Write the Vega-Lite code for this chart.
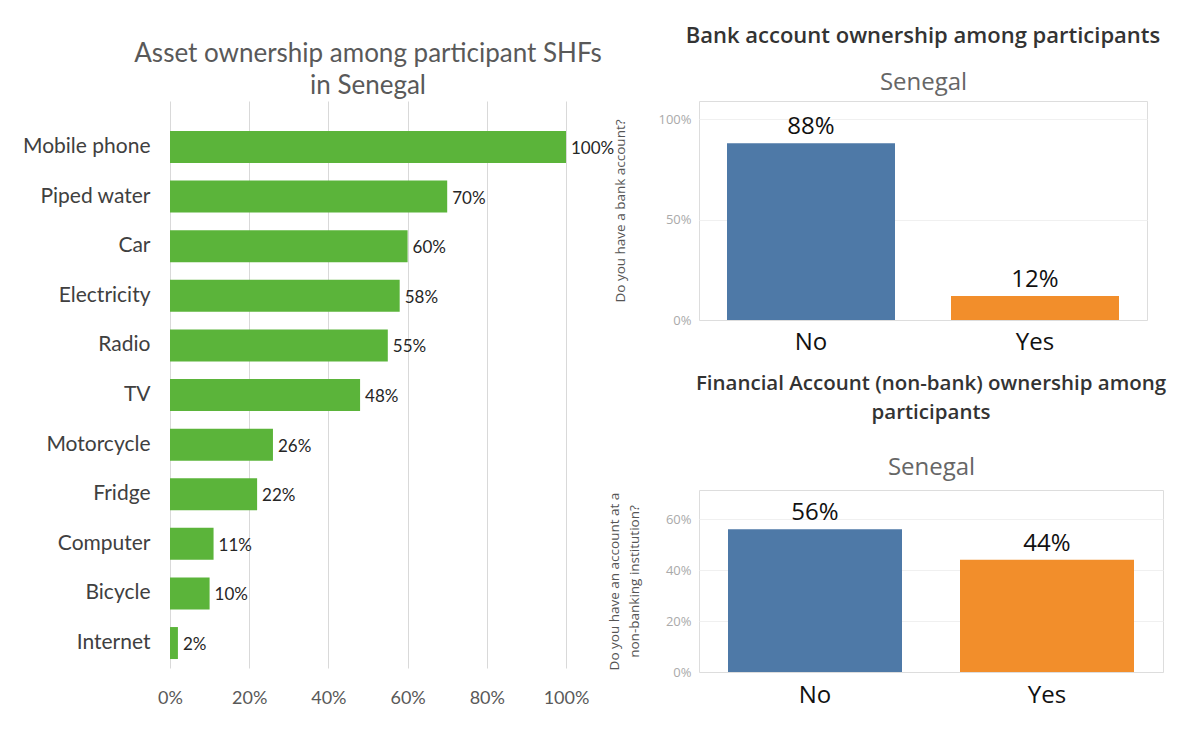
{
  "$schema": "https://vega.github.io/schema/vega-lite/v6.json",
  "padding": {"left": 22, "top": 24, "right": 5, "bottom": 5},
  "background": "white",
  "config": {"view": {"stroke": null}, "font": "Lato"},
  "spacing": -9,
  "hconcat": [
    {
      "title": {"text": ["Asset ownership among participant SHFs", "in Senegal"], "font": "Lato", "fontSize": 26, "fontWeight": "normal", "color": "#595959", "lineHeight": 32, "anchor": "middle", "frame": "group", "offset": 2},
      "width": 396,
      "height": 567,
      "data": {"values": [
        {"asset": "Mobile phone", "share": 1.0},
        {"asset": "Piped water", "share": 0.70},
        {"asset": "Car", "share": 0.60},
        {"asset": "Electricity", "share": 0.58},
        {"asset": "Radio", "share": 0.55},
        {"asset": "TV", "share": 0.48},
        {"asset": "Motorcycle", "share": 0.26},
        {"asset": "Fridge", "share": 0.22},
        {"asset": "Computer", "share": 0.11},
        {"asset": "Bicycle", "share": 0.10},
        {"asset": "Internet", "share": 0.02}
      ]},
      "encoding": {
        "y": {"field": "asset", "type": "nominal", "sort": null, "title": null,
              "scale": {"paddingInner": 0.355, "paddingOuter": 0.393, "align": 0.77},
              "axis": {"ticks": false, "domain": false, "labelFont": "Lato", "labelFontSize": 21, "labelColor": "#404040", "labelPadding": 20}},
        "x": {"field": "share", "type": "quantitative", "title": null,
              "scale": {"domain": [0, 1]},
              "axis": {"format": ".0%", "values": [0, 0.2, 0.4, 0.6, 0.8, 1], "labelFlush": false, "ticks": false, "domain": false, "grid": true, "gridColor": "#d9d9d9", "labelFont": "Lato", "labelFontSize": 18, "labelColor": "#595959", "labelPadding": 21}}
      },
      "layer": [
        {"mark": {"type": "bar", "color": "#5BB43A"}},
        {"mark": {"type": "text", "align": "left", "dx": 5, "dy": 2, "font": "Lato", "fontSize": 17, "fontWeight": "normal", "color": "#262626"},
         "encoding": {"text": {"field": "share", "type": "quantitative", "format": ".0%"}}}
      ]
    },
    {
      "spacing": 18,
      "vconcat": [
        {
          "title": {"text": "Bank account ownership among participants", "font": "Open Sans", "fontSize": 22, "fontWeight": 600, "color": "#333333", "anchor": "middle", "frame": "group", "offset": 22},
          "data": {"values": [
            {"answer": "No", "share": 0.88},
            {"answer": "Yes", "share": 0.12}
          ]},
          "width": 448,
          "height": 219,
          "view": {"stroke": "#dddddd"},
          "resolve": {"axis": {"x": "independent"}},
          "encoding": {
            "y": {"field": "share", "type": "quantitative", "title": "Do you have a bank account?",
                  "scale": {"domain": [0, 1.09]},
                  "axis": {"values": [0, 0.5, 1], "format": ".0%", "ticks": false, "domain": false, "gridColor": "#f0f0f0", "labelFont": "Open Sans", "labelFontSize": 13, "labelColor": "#aaaaaa", "labelPadding": 8, "titleFont": "Open Sans", "titleFontSize": 13.5, "titleFontWeight": "normal", "titleColor": "#555555", "titlePadding": 30}}
          },
          "layer": [
            {"mark": {"type": "bar"},
             "encoding": {
               "x": {"field": "answer", "type": "nominal", "title": null,
                     "scale": {"paddingInner": 0.25, "paddingOuter": 0.125},
                     "axis": {"labelAngle": 0, "ticks": false, "domainColor": "#dddddd", "labelFont": "Open Sans", "labelFontSize": 24, "labelColor": "#111111", "labelPadding": 10}},
               "color": {"field": "answer", "type": "nominal", "legend": null, "scale": {"domain": ["No", "Yes"], "range": ["#4E79A7", "#F28E2B"]}}
             }},
            {"mark": {"type": "text", "dy": -16, "font": "Open Sans", "fontSize": 24, "color": "#111111"},
             "encoding": {
               "x": {"field": "answer", "type": "nominal", "title": "Senegal",
                     "axis": {"orient": "top", "labels": false, "ticks": false, "domain": false, "grid": false, "titleFont": "Open Sans", "titleFontSize": 24, "titleFontWeight": "normal", "titleColor": "#666666", "titlePadding": 7}},
               "text": {"field": "share", "type": "quantitative", "format": ".0%"}
             }}
          ]
        },
        {
          "title": {"text": ["Financial Account (non-bank) ownership among", "participants"], "font": "Open Sans", "fontSize": 20.5, "fontWeight": 600, "color": "#333333", "anchor": "middle", "frame": "group", "lineHeight": 29, "offset": 32},
          "data": {"values": [
            {"answer": "No", "share": 0.56},
            {"answer": "Yes", "share": 0.44}
          ]},
          "width": 464,
          "height": 182,
          "view": {"stroke": "#dddddd"},
          "resolve": {"axis": {"x": "independent"}},
          "encoding": {
            "y": {"field": "share", "type": "quantitative", "title": ["Do you have an account at a", "non-banking institution?"],
                  "scale": {"domain": [0, 0.714]},
                  "axis": {"values": [0, 0.2, 0.4, 0.6], "format": ".0%", "ticks": false, "domain": false, "gridColor": "#f0f0f0", "labelFont": "Open Sans", "labelFontSize": 13, "labelColor": "#aaaaaa", "labelPadding": 8, "titleFont": "Open Sans", "titleFontSize": 13.5, "titleFontWeight": "normal", "titleColor": "#555555", "titleLineHeight": 20, "titlePadding": 24}}
          },
          "layer": [
            {"mark": {"type": "bar"},
             "encoding": {
               "x": {"field": "answer", "type": "nominal", "title": null,
                     "scale": {"paddingInner": 0.25, "paddingOuter": 0.125},
                     "axis": {"labelAngle": 0, "ticks": false, "domainColor": "#dddddd", "labelFont": "Open Sans", "labelFontSize": 24, "labelColor": "#111111", "labelPadding": 11}},
               "color": {"field": "answer", "type": "nominal", "legend": null, "scale": {"domain": ["No", "Yes"], "range": ["#4E79A7", "#F28E2B"]}}
             }},
            {"mark": {"type": "text", "dy": -16, "font": "Open Sans", "fontSize": 24, "color": "#111111"},
             "encoding": {
               "x": {"field": "answer", "type": "nominal", "title": "Senegal",
                     "axis": {"orient": "top", "labels": false, "ticks": false, "domain": false, "grid": false, "titleFont": "Open Sans", "titleFontSize": 24, "titleFontWeight": "normal", "titleColor": "#666666", "titlePadding": 11}},
               "text": {"field": "share", "type": "quantitative", "format": ".0%"}
             }}
          ]
        }
      ]
    }
  ]
}
